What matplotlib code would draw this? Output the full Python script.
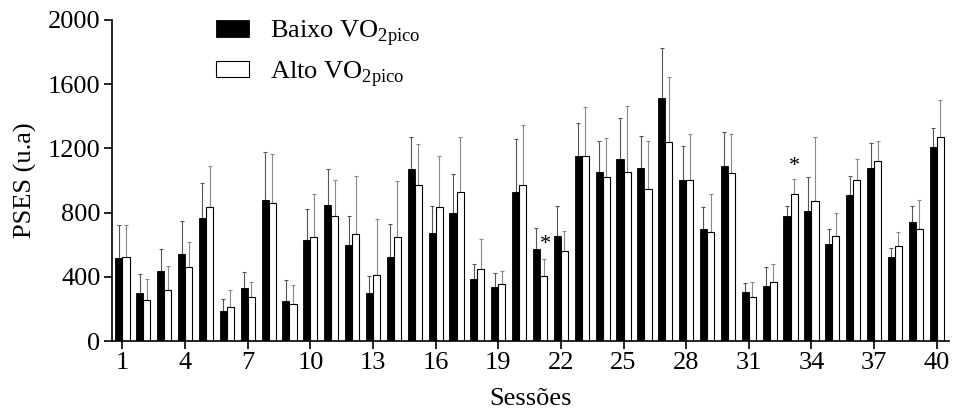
import matplotlib
matplotlib.use("Agg")
import matplotlib.pyplot as plt
import numpy as np

plt.rcParams['font.family'] = ['Liberation Serif', 'DejaVu Serif']
plt.rcParams['mathtext.fontset'] = 'custom'
plt.rcParams['mathtext.rm'] = 'Liberation Serif'

sessions = np.arange(1, 41)

baixo = [515, 301, 436, 542, 764, 185, 328, 878, 247, 627,
         845, 598, 299, 523, 1072, 675, 796, 384, 338, 926,
         575, 652, 1154, 1055, 1134, 1078, 1512, 1001, 700, 1092,
         303, 345, 781, 810, 602, 911, 1078, 521, 743, 1209]
baixo_sd = [208, 114, 139, 206, 220, 77, 102, 301, 133, 193,
            228, 179, 104, 206, 201, 164, 244, 98, 86, 332,
            127, 187, 206, 191, 257, 201, 311, 214, 137, 210,
            56, 114, 60, 210, 94, 117, 154, 60, 100, 120]

alto = [523, 253, 318, 461, 835, 210, 272, 862, 230, 650,
        777, 665, 409, 646, 974, 835, 926, 447, 357, 970,
        403, 563, 1151, 1020, 1051, 945, 1240, 1001, 677, 1045,
        276, 366, 914, 874, 652, 1001, 1121, 590, 700, 1269]
alto_sd = [200, 135, 147, 158, 255, 110, 97, 303, 119, 264,
           224, 361, 349, 349, 255, 319, 345, 190, 77, 374,
           106, 124, 305, 245, 415, 299, 407, 289, 241, 245,
           93, 116, 95, 395, 147, 135, 127, 87, 178, 232]

# significant differences
stars_x = [21.24, 33.17]
stars_y = [600, 1085]

fig = plt.figure(figsize=(9.54, 4.16), dpi=100)
ax = fig.add_axes([0.117, 0.18, 0.878, 0.772])

w = 0.34
ax.bar(sessions - w/2, baixo, w, color="black", edgecolor="black", linewidth=0.6,
       label=r"Baixo VO$_{\mathrm{2pico}}$", zorder=2)
ax.bar(sessions + w/2, alto, w, color="white", edgecolor="black", linewidth=0.8,
       label=r"Alto VO$_{\mathrm{2pico}}$", zorder=2)
ax.errorbar(sessions - w/2, baixo, yerr=[np.zeros(40), baixo_sd], fmt="none",
            ecolor="#555555", elinewidth=0.8, capsize=1.5, capthick=0.8, zorder=1)
ax.errorbar(sessions + w/2, alto, yerr=[np.zeros(40), alto_sd], fmt="none",
            ecolor="#888888", elinewidth=0.8, capsize=1.5, capthick=0.8, zorder=1)

for sx, sy in zip(stars_x, stars_y):
    ax.text(sx, sy, "*", ha="center", va="center", fontsize=16)

ax.set_xlim(0.48, 40.6)
ax.set_ylim(0, 2000)
ax.set_xticks(np.arange(1, 41, 3))
ax.set_yticks(np.arange(0, 2001, 400))
ax.tick_params(labelsize=19, direction="out", length=6, width=1.2, pad=2)
ax.spines["top"].set_visible(False)
ax.spines["right"].set_visible(False)
ax.spines["left"].set_linewidth(1.2)
ax.spines["bottom"].set_linewidth(1.2)

ax.set_ylabel("PSES (u.a)", fontsize=19, labelpad=8)
ax.set_xlabel("Sessões", fontsize=19, labelpad=10)

ax.legend(loc="upper left", bbox_to_anchor=(0.226, 0.956), bbox_transform=fig.transFigure,
          frameon=False, fontsize=19, handlelength=1.25, handleheight=0.6,
          handletextpad=0.8, labelspacing=0.4, borderpad=0, borderaxespad=0)

fig.savefig("out.png", dpi=100)
